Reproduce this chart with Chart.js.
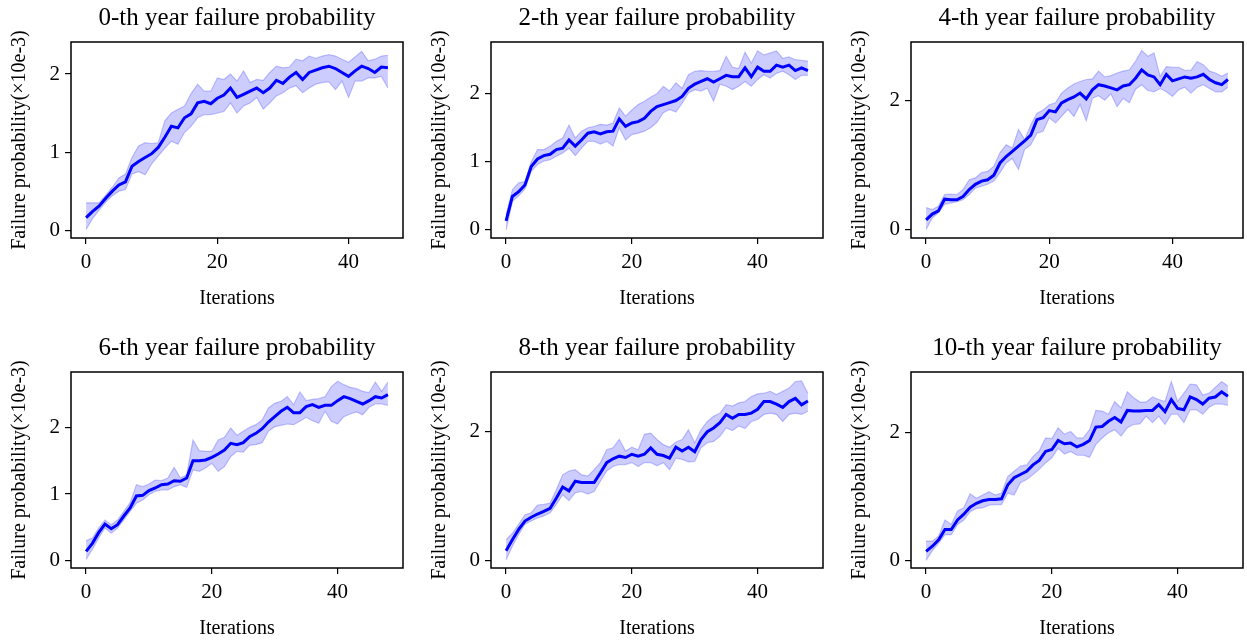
<!DOCTYPE html>
<html><head><meta charset="utf-8">
<script src="https://cdn.jsdelivr.net/npm/chart.js@4"></script>
<style>
html,body{margin:0;padding:0;background:#fff;overflow:hidden;width:1247px;height:641px;position:relative}
canvas{position:absolute}
</style></head><body>
<canvas id="c0" width="407" height="311" style="left:0px;top:0px"></canvas>
<canvas id="c1" width="407" height="311" style="left:420px;top:0px"></canvas>
<canvas id="c2" width="407" height="311" style="left:840px;top:0px"></canvas>
<canvas id="c3" width="407" height="311" style="left:0px;top:330px"></canvas>
<canvas id="c4" width="407" height="311" style="left:420px;top:330px"></canvas>
<canvas id="c5" width="407" height="311" style="left:840px;top:330px"></canvas>
<script>
// ---- data ----
const titles = ["0-th year failure probability","2-th year failure probability","4-th year failure probability",
                "6-th year failure probability","8-th year failure probability","10-th year failure probability"];
const xTickValues = [0, 20, 40];
const yTicks012 = [0, 1, 2];
const yTicks02 = [0, 2];
const xLabel = "Iterations";
const yLabel = "Failure probability(\u00d710e-3)";

const mean0 = [0.16,0.24,0.31,0.41,0.50,0.58,0.62,0.82,0.88,0.93,0.98,1.06,1.19,1.33,1.31,1.44,1.49,1.63,1.65,1.62,1.69,1.73,1.82,1.70,1.74,1.78,1.82,1.76,1.82,1.92,1.88,1.96,2.02,1.93,2.02,2.05,2.08,2.10,2.07,2.02,1.97,2.04,2.10,2.07,2.02,2.09,2.08];
const upper0 = [0.35,0.35,0.35,0.45,0.55,0.67,0.72,0.93,1.08,1.12,1.11,1.12,1.40,1.50,1.55,1.59,1.75,1.87,1.78,1.78,1.95,1.93,2.00,1.91,2.04,1.89,1.93,1.92,2.02,2.10,2.08,2.09,2.19,2.17,2.23,2.20,2.23,2.25,2.23,2.19,2.15,2.22,2.29,2.17,2.19,2.23,2.24];
const lower0 = [0.01,0.15,0.26,0.36,0.44,0.50,0.52,0.72,0.75,0.71,0.85,0.95,1.05,1.14,1.10,1.25,1.33,1.44,1.48,1.48,1.50,1.52,1.63,1.50,1.59,1.63,1.70,1.55,1.63,1.72,1.76,1.82,1.85,1.76,1.82,1.87,1.89,1.90,1.80,1.91,1.70,1.91,1.91,1.95,1.95,1.97,1.82];

const mean2 = [0.13,0.49,0.56,0.66,0.93,1.04,1.09,1.11,1.18,1.20,1.32,1.23,1.32,1.42,1.44,1.41,1.44,1.45,1.63,1.52,1.57,1.59,1.64,1.74,1.81,1.84,1.87,1.90,1.96,2.08,2.14,2.18,2.22,2.17,2.22,2.27,2.25,2.25,2.38,2.25,2.39,2.33,2.33,2.42,2.39,2.42,2.34,2.38,2.34];
const upper2 = [0.22,0.59,0.69,0.71,1.00,1.18,1.18,1.23,1.30,1.35,1.54,1.35,1.45,1.50,1.52,1.55,1.54,1.57,1.79,1.67,1.76,1.84,1.89,1.95,2.00,2.11,2.04,2.16,2.08,2.28,2.33,2.34,2.33,2.33,2.34,2.55,2.39,2.37,2.61,2.45,2.63,2.57,2.60,2.63,2.52,2.54,2.50,2.49,2.48];
const lower2 = [0.00,0.42,0.50,0.60,0.86,0.96,1.01,1.03,1.08,1.13,1.20,1.09,1.20,1.30,1.30,1.26,1.30,1.23,1.50,1.32,1.40,1.42,1.45,1.50,1.58,1.72,1.77,1.73,1.86,2.01,2.06,2.04,2.08,1.89,2.14,2.11,2.06,2.11,2.18,2.11,2.21,2.28,2.23,2.30,2.33,2.28,2.21,2.27,2.27];

const mean4 = [0.15,0.24,0.29,0.47,0.46,0.46,0.51,0.62,0.70,0.75,0.77,0.84,1.03,1.13,1.21,1.29,1.37,1.46,1.70,1.73,1.84,1.82,1.96,2.01,2.05,2.11,2.02,2.16,2.24,2.22,2.19,2.16,2.22,2.24,2.34,2.47,2.39,2.36,2.24,2.40,2.30,2.33,2.36,2.34,2.36,2.40,2.32,2.27,2.24,2.32];
const upper4 = [0.34,0.31,0.36,0.54,0.55,0.54,0.62,0.77,0.80,0.88,0.90,0.98,1.19,1.31,1.26,1.55,1.39,1.62,1.80,1.85,1.93,1.96,2.11,2.19,2.25,2.29,2.32,2.33,2.45,2.36,2.38,2.42,2.45,2.47,2.60,2.77,2.68,2.73,2.37,2.52,2.51,2.51,2.46,2.46,2.60,2.55,2.45,2.42,2.37,2.42];
const lower4 = [0.00,0.18,0.26,0.39,0.41,0.43,0.46,0.54,0.64,0.67,0.70,0.75,0.88,1.03,1.10,0.93,1.24,1.31,1.49,1.52,1.73,1.65,1.75,1.86,1.75,1.93,1.68,2.03,2.07,2.00,2.10,1.90,2.03,1.96,2.17,2.24,2.15,2.13,2.18,2.13,2.06,2.16,2.20,2.11,2.20,2.24,2.18,2.13,2.13,2.20];

const mean6 = [0.14,0.26,0.42,0.55,0.48,0.54,0.67,0.79,0.97,0.98,1.05,1.09,1.14,1.15,1.20,1.19,1.24,1.50,1.50,1.51,1.55,1.60,1.66,1.76,1.74,1.77,1.86,1.91,1.98,2.08,2.16,2.24,2.30,2.22,2.22,2.31,2.34,2.30,2.33,2.33,2.40,2.46,2.43,2.39,2.35,2.40,2.46,2.44,2.49];
const upper6 = [0.30,0.34,0.49,0.61,0.54,0.61,0.74,0.87,1.14,1.11,1.15,1.21,1.20,1.24,1.40,1.24,1.29,1.81,1.65,1.64,1.64,1.81,1.85,1.99,1.88,1.94,2.00,2.04,2.11,2.29,2.36,2.39,2.46,2.34,2.53,2.40,2.42,2.43,2.46,2.61,2.69,2.64,2.60,2.58,2.54,2.52,2.68,2.54,2.68];
const lower6 = [0.02,0.17,0.34,0.49,0.41,0.49,0.61,0.74,0.86,0.91,0.99,1.04,1.06,1.06,1.11,1.14,1.10,1.36,1.34,1.39,1.46,1.34,1.41,1.56,1.64,1.63,1.73,1.74,1.77,1.94,2.01,2.03,2.05,2.04,2.09,2.15,2.10,2.06,2.24,2.09,2.05,2.16,2.20,2.23,2.19,2.30,2.35,2.35,2.33];

const mean8 = [0.15,0.32,0.48,0.61,0.67,0.72,0.76,0.81,0.97,1.14,1.08,1.23,1.21,1.21,1.21,1.36,1.52,1.58,1.62,1.60,1.65,1.62,1.65,1.75,1.65,1.63,1.59,1.76,1.70,1.76,1.69,1.88,2.00,2.06,2.14,2.27,2.21,2.27,2.27,2.29,2.35,2.47,2.47,2.43,2.38,2.47,2.52,2.42,2.48];
const upper8 = [0.32,0.42,0.56,0.71,0.74,0.86,0.87,0.89,1.10,1.33,1.39,1.41,1.33,1.31,1.41,1.52,1.72,1.75,1.88,1.70,1.76,1.72,1.96,1.98,1.88,1.80,1.76,1.84,1.88,2.03,1.83,2.03,2.16,2.24,2.29,2.42,2.40,2.45,2.47,2.55,2.59,2.60,2.63,2.58,2.63,2.68,2.78,2.79,2.60];
const lower8 = [0.01,0.22,0.40,0.56,0.61,0.66,0.69,0.74,0.87,1.02,0.93,1.05,1.07,1.03,1.07,1.23,1.39,1.46,1.49,1.49,1.52,1.46,1.52,1.52,1.47,1.52,1.41,1.59,1.57,1.53,1.54,1.75,1.83,1.85,1.93,2.06,2.02,2.09,2.05,2.16,2.19,2.27,2.29,2.27,2.16,2.27,2.29,2.27,2.32];

const mean10 = [0.14,0.22,0.32,0.48,0.48,0.63,0.72,0.83,0.89,0.93,0.95,0.95,0.96,1.18,1.29,1.34,1.39,1.49,1.56,1.70,1.73,1.87,1.82,1.83,1.77,1.81,1.87,2.08,2.09,2.17,2.23,2.16,2.34,2.33,2.33,2.34,2.34,2.43,2.32,2.51,2.37,2.35,2.55,2.51,2.44,2.53,2.55,2.63,2.56];
const upper10 = [0.30,0.30,0.38,0.63,0.56,0.77,0.82,1.04,0.97,1.02,1.07,1.02,1.05,1.31,1.39,1.47,1.49,1.62,1.71,1.91,1.90,2.07,1.97,2.01,1.91,1.91,2.04,2.34,2.33,2.28,2.48,2.38,2.63,2.54,2.47,2.47,2.55,2.51,2.48,2.79,2.48,2.61,2.75,2.74,2.58,2.61,2.70,2.79,2.72];
const lower10 = [0.00,0.15,0.27,0.40,0.40,0.56,0.63,0.76,0.81,0.82,0.86,0.87,0.87,1.05,1.02,1.21,1.26,1.34,1.42,1.52,1.60,1.75,1.66,1.70,1.64,1.64,1.61,1.81,1.91,1.99,2.04,1.94,2.07,2.12,2.13,2.25,2.15,2.25,2.12,2.28,2.28,2.15,2.35,2.35,2.28,2.39,2.44,2.44,2.42];

// ---- drawing ----
const FONT = "'Liberation Serif','Times New Roman',serif";
const framePlugin = {
  id: 'frame',
  afterDraw(chart) {
    const {ctx, chartArea: a} = chart;
    ctx.save();
    ctx.strokeStyle = '#000';
    ctx.lineWidth = 1.5;
    ctx.strokeRect(a.left, a.top, a.right - a.left, a.bottom - a.top);
    ctx.restore();
  }
};
const toPts = arr => arr.map((v, i) => ({x: i, y: v}));

function makeChart(id, title, mean, upper, lower, xr, yr, yTickValues) {
  new Chart(document.getElementById(id), {
    type: 'line',
    data: {datasets: [
      {data: toPts(mean), borderColor: '#0000ff', borderWidth: 3, pointRadius: 0, fill: false, tension: 0, order: 0},
      {data: toPts(upper), borderColor: 'rgba(0,0,255,0.22)', borderWidth: 1.2, pointRadius: 0, fill: '+1',
       backgroundColor: 'rgba(0,0,255,0.2)', tension: 0, order: 1},
      {data: toPts(lower), borderColor: 'rgba(0,0,255,0.22)', borderWidth: 1.2, pointRadius: 0, fill: false, tension: 0, order: 2}
    ]},
    options: {
      responsive: false, animation: false, devicePixelRatio: 1,
      layout: {padding: {left: 0, right: 4, top: 0, bottom: 0}},
      plugins: {
        legend: {display: false}, tooltip: {enabled: false},
        title: {display: true, fullSize: false, text: title, color: '#000',
                font: {family: FONT, size: 25, weight: 'normal', lineHeight: 1.2}, padding: {top: 3, bottom: 9}}
      },
      scales: {
        x: {
          type: 'linear', min: xr[0], max: xr[1],
          afterBuildTicks: s => { s.ticks = xTickValues.map(v => ({value: v})); },
          afterFit: s => { s.height = 73; },
          grid: {drawOnChartArea: false, drawTicks: true, tickLength: 6, color: '#000', lineWidth: 1.2},
          border: {display: false},
          ticks: {color: '#000', font: {family: FONT, size: 21}, padding: 6, maxRotation: 0},
          title: {display: true, text: xLabel, color: '#000', font: {family: FONT, size: 20, lineHeight: 1.2}, padding: {top: 0, bottom: 0}}
        },
        y: {
          type: 'linear', min: yr[0], max: yr[1],
          afterBuildTicks: s => { s.ticks = yTickValues.map(v => ({value: v})); },
          afterFit: s => { s.width = 71; },
          grid: {drawOnChartArea: false, drawTicks: true, tickLength: 6, color: '#000', lineWidth: 1.2},
          border: {display: false},
          ticks: {color: '#000', font: {family: FONT, size: 21}, padding: 5},
          title: {display: true, text: yLabel, color: '#000', font: {family: FONT, size: 20, lineHeight: 1.2}, padding: {top: 8, bottom: 0}}
        }
      }
    },
    plugins: [framePlugin]
  });
}

makeChart('c0', titles[0], mean0, upper0, lower0, [-2.3, 48.3], [-0.10, 2.41], yTicks012);
makeChart('c1', titles[1], mean2, upper2, lower2, [-2.4, 50.4], [-0.12, 2.76], yTicks012);
makeChart('c2', titles[2], mean4, upper4, lower4, [-2.45, 51.45], [-0.13, 2.90], yTicks02);
makeChart('c3', titles[3], mean6, upper6, lower6, [-2.4, 50.4], [-0.11, 2.83], yTicks012);
makeChart('c4', titles[4], mean8, upper8, lower8, [-2.4, 50.4], [-0.12, 2.93], yTicks02);
makeChart('c5', titles[5], mean10, upper10, lower10, [-2.4, 50.4], [-0.12, 2.94], yTicks02);
</script>
</body></html>
